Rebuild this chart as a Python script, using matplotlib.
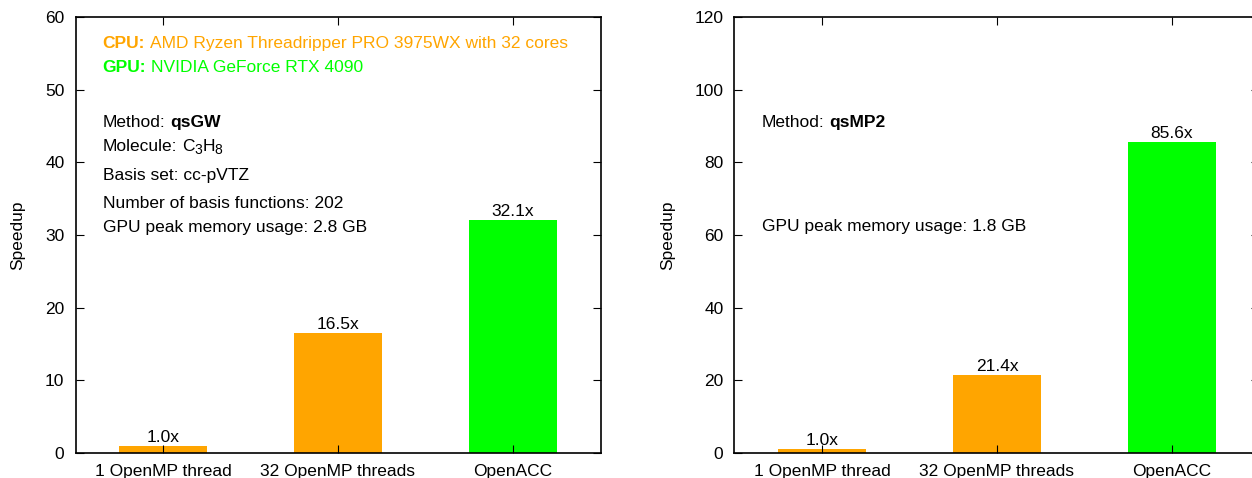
import matplotlib
matplotlib.use("Agg")
import matplotlib.pyplot as plt

plt.rcParams.update({
    "font.family": ["Liberation Sans", "DejaVu Sans"],
    "font.size": 12.5,
})

# Data
categories = ["1 OpenMP thread", "32 OpenMP threads", "OpenACC"]
speedup_qsgw = [1.0, 16.5, 32.1]
speedup_qsmp2 = [1.0, 21.4, 85.6]
bar_colors = ["#FFA500", "#FFA500", "#00FF00"]
yticks_qsgw = [0, 10, 20, 30, 40, 50, 60]
yticks_qsmp2 = [0, 20, 40, 60, 80, 100, 120]

CPU_COLOR = "#FFA500"
GPU_COLOR = "#00FF00"
FS = 12.5
SPACE = 0.278 * FS  # width of a space, in points

W, H = 1252, 478
fig = plt.figure(figsize=(W / 100, H / 100), dpi=100)

ax_left = fig.add_axes([75.5 / W, 25 / H, 525 / W, 436 / H])
ax_right = fig.add_axes([734.5 / W, 25 / H, 525 / W, 436 / H])


def style_axes(ax, values, yticks):
    x = range(len(categories))
    ax.bar(x, values, width=0.5, color=bar_colors, zorder=1)
    for xi, v in zip(x, values):
        ax.annotate(f"{v:.1f}x", (xi, v), xytext=(0, 3), textcoords="offset points",
                    ha="center", va="baseline", fontsize=FS)
    ax.set_xlim(-0.5, len(categories) - 0.5)
    ax.set_ylim(yticks[0], yticks[-1])
    ax.set_xticks(list(x))
    ax.set_xticklabels(categories)
    ax.set_yticks(yticks)
    ax.tick_params(direction="in", top=True, right=True, length=6, width=0.8,
                   labelsize=FS)
    ax.tick_params(axis="y", pad=8)
    ax.tick_params(axis="x", pad=8)
    for s in ax.spines.values():
        s.set_linewidth(1.2)


def rich_text(ax, x, y, segments):
    """Draw text segments one after another on a shared baseline.

    Each segment is (text, gap_pt, dy_pt, props)."""
    first, _, _, props = segments[0]
    prev = ax.text(x, y, first, ha="left", va="center", fontsize=FS, **props)
    for text, gap, dy, props in segments[1:]:
        kw = dict(fontsize=FS)
        kw.update(props)
        prev = ax.annotate(text, xy=(1, 0), xycoords=prev, xytext=(gap, dy),
                           textcoords="offset points", ha="left", va="bottom", **kw)
    return prev


style_axes(ax_left, speedup_qsgw, yticks_qsgw)
style_axes(ax_right, speedup_qsmp2, yticks_qsmp2)

fig.text(18 / W, 1 - 235 / H, "Speedup", rotation=90, ha="center", va="center",
         fontsize=FS)
fig.text(668 / W, 1 - 235 / H, "Speedup", rotation=90, ha="center", va="center",
         fontsize=FS)

bold = {"fontweight": "bold"}
sub = {"fontsize": 10}

# Hardware and run details, qsGW panel
tx = -0.345
rich_text(ax_left, tx, 56.4, [
    ("CPU:", 0, 0, {"color": CPU_COLOR, **bold}),
    ("AMD Ryzen Threadripper PRO 3975WX with 32 cores", SPACE, 0, {"color": CPU_COLOR}),
])
rich_text(ax_left, tx, 53.0, [
    ("GPU:", 0, 0, {"color": GPU_COLOR, **bold}),
    ("NVIDIA GeForce RTX 4090", SPACE, 0, {"color": GPU_COLOR}),
])
rich_text(ax_left, tx, 45.5, [
    ("Method:", 0, 0, {}),
    ("qsGW", SPACE, 0, bold),
])
rich_text(ax_left, tx, 42.2, [
    ("Molecule:", 0, 0, {}),
    ("C", SPACE, 0, {}),
    ("3", 0, -2.6, sub),
    ("H", 0, 2.6, {}),
    ("8", 0, -2.6, sub),
])
ax_left.text(tx, 38.2, "Basis set: cc-pVTZ", va="center", ha="left")
ax_left.text(tx, 34.3, "Number of basis functions: 202", va="center", ha="left")
ax_left.text(tx, 31.1, "GPU peak memory usage: 2.8 GB", va="center", ha="left")

# Run details, qsMP2 panel
rich_text(ax_right, tx, 91.0, [
    ("Method:", 0, 0, {}),
    ("qsMP2", SPACE, 0, bold),
])
ax_right.text(tx, 62.3, "GPU peak memory usage: 1.8 GB", va="center", ha="left")

fig.savefig("out.png", dpi=100)
